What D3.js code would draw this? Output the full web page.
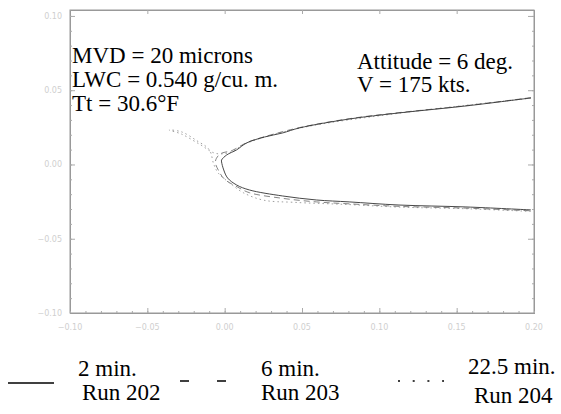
<!DOCTYPE html>
<html>
<head>
<meta charset="utf-8">
<script src="https://cdn.jsdelivr.net/npm/d3@7"></script>
<style>
  body { margin: 0; background: #fff; }
</style>
</head>
<body>
<svg id="chart"></svg>
<script>
// ice shape contours, [x, y] in chord units
const run202 = [
  [0.198, 0.0448], [0.156, 0.0394], [0.1127, 0.0347], [0.0805, 0.0306], [0.0483, 0.0246],
  [0.0374, 0.0212], [0.0258, 0.0185], [0.0142, 0.0145], [0.0077, 0.0098], [0.0013, 0.0064],
  [-0.002, 0.003], [-0.002, 0.0017], [-0.0006, -0.0037], [0.0019, -0.0091], [0.0077, -0.0138],
  [0.0161, -0.0172], [0.0374, -0.0212], [0.0593, -0.0239], [0.0805, -0.0252], [0.1127, -0.0273],
  [0.156, -0.0286], [0.198, -0.0306]
];
const run203 = [
  [0.198, 0.0450], [0.156, 0.0396], [0.1127, 0.0349], [0.0805, 0.0308], [0.0483, 0.0248],
  [0.0258, 0.0187], [0.0142, 0.0147], [0.005, 0.0095], [-0.003, 0.0070], [-0.006, 0.0020],
  [-0.004, -0.004], [0.0, -0.010], [0.008, -0.015], [0.016, -0.019], [0.0374, -0.0228],
  [0.0593, -0.0252], [0.0805, -0.0265], [0.1127, -0.0282], [0.156, -0.0294], [0.198, -0.0312]
];
const run204 = [
  [0.198, 0.0446], [0.1127, 0.0345], [0.0483, 0.0244], [0.0142, 0.0143], [0.003, 0.0080],
  [-0.006, 0.0075], [-0.016, 0.0135], [-0.028, 0.0205], [-0.036, 0.0232], [-0.028, 0.022],
  [-0.018, 0.016], [-0.010, 0.010], [-0.007, 0.000], [-0.004, -0.006], [0.004, -0.013],
  [0.012, -0.019], [0.025, -0.024], [0.045, -0.0255], [0.0805, -0.0270], [0.1127, -0.0287],
  [0.156, -0.0298], [0.198, -0.0316]
];
const xTicks = [-0.10, -0.05, 0.00, 0.05, 0.10, 0.15, 0.20];
const yTicks = [-0.10, -0.05, 0.00, 0.05, 0.10];
const notesLeft = ["MVD = 20 microns", "LWC = 0.540 g/cu. m.", "Tt = 30.6\u00B0F"];
const notesRight = ["Attitude = 6 deg.", "V = 175 kts."];
const legendItems = [
  { time: "2 min.", run: "Run 202", dash: null },
  { time: "6 min.", run: "Run 203", dash: "9,28" },
  { time: "22.5 min.", run: "Run 204", dash: "2,12.7" }
];

const W = 561, H = 414;
const serif = "Liberation Serif";
const svg = d3.select("#chart").attr("width", W).attr("height", H);

const x = d3.scaleLinear().domain([-0.10, 0.20]).range([70, 534]);
const y = d3.scaleLinear().domain([-0.10, 0.104]).range([313, 10]);

const fmt = d3.format(".2f");
const tickCol = "#cfcfcf";

// frame
svg.append("rect")
  .attr("x", x(-0.10)).attr("y", y(0.104))
  .attr("width", x(0.20) - x(-0.10)).attr("height", y(-0.10) - y(0.104))
  .attr("fill", "none").attr("stroke", "#999").attr("stroke-width", 1);

// axes, ticks pointing inward
const minorY = d3.range(-0.10, 0.1041, 0.01);
const minorX = d3.range(-0.10, 0.2001, 0.01);

svg.append("g").attr("transform", `translate(${x(-0.10)},0)`)
  .call(d3.axisRight(y).tickValues(yTicks).tickSize(5).tickFormat(""));
svg.append("g").attr("transform", `translate(${x(0.20)},0)`)
  .call(d3.axisLeft(y).tickValues(yTicks).tickSize(6).tickFormat(""));
svg.append("g").attr("transform", `translate(0,${y(-0.10)})`)
  .call(d3.axisTop(x).tickValues(xTicks).tickSize(5).tickFormat(""));
svg.append("g").attr("transform", `translate(0,${y(0.104)})`)
  .call(d3.axisBottom(x).tickValues(xTicks).tickSize(4).tickFormat(""));
svg.append("g").attr("transform", `translate(${x(-0.10)},0)`)
  .call(d3.axisRight(y).tickValues(minorY).tickSize(2).tickFormat(""));
svg.append("g").attr("transform", `translate(${x(0.20)},0)`)
  .call(d3.axisLeft(y).tickValues(minorY).tickSize(2).tickFormat(""));
svg.append("g").attr("transform", `translate(0,${y(-0.10)})`)
  .call(d3.axisTop(x).tickValues(minorX).tickSize(2).tickFormat(""));
svg.selectAll(".domain").attr("stroke", "#999");
svg.selectAll(".tick line").attr("stroke", "#aaa");

// tick labels
svg.append("g").selectAll("text").data(yTicks).join("text")
  .attr("x", x(-0.10) - 8).attr("y", d => y(d) + 3)
  .attr("text-anchor", "end")
  .attr("font-family", "DejaVu Sans").attr("font-size", 8)
  .attr("fill", tickCol)
  .text(d => fmt(d).replace("-", "\u2212"));
svg.append("g").selectAll("text").data(xTicks).join("text")
  .attr("x", d => x(d)).attr("y", y(-0.10) + 17)
  .attr("text-anchor", "middle")
  .attr("font-family", "DejaVu Sans").attr("font-size", 8)
  .attr("fill", tickCol)
  .text(d => fmt(d).replace("-", "\u2212"));

// contours
const line = d3.line().x(d => x(d[0])).y(d => y(d[1])).curve(d3.curveCatmullRom);
svg.append("path").datum(run204).attr("d", line)
  .attr("fill", "none").attr("stroke", "#888").attr("stroke-width", 0.8)
  .attr("stroke-dasharray", "1.5,3");
svg.append("path").datum(run203).attr("d", line)
  .attr("fill", "none").attr("stroke", "#666").attr("stroke-width", 0.8)
  .attr("stroke-dasharray", "6,4");
svg.append("path").datum(run202).attr("d", line)
  .attr("fill", "none").attr("stroke", "#333").attr("stroke-width", 0.9);

// annotations
svg.append("g").selectAll("text").data(notesLeft).join("text")
  .attr("x", 72).attr("y", (d, i) => 63 + i * 24)
  .attr("font-family", serif).attr("font-size", 23).attr("fill", "#000")
  .text(d => d);
svg.append("g").selectAll("text").data(notesRight).join("text")
  .attr("x", 357).attr("y", (d, i) => 69 + i * 23)
  .attr("font-family", serif).attr("font-size", 23).attr("fill", "#000")
  .text(d => d);

// legend
const lx = [8, 180, 398];
const lw = [46, 46, 46];
const tx = [78, 261, 468];
const leg = svg.append("g");
legendItems.forEach((d, i) => {
  leg.append("line")
    .attr("x1", lx[i]).attr("x2", lx[i] + lw[i])
    .attr("y1", i === 0 ? 383 : 381).attr("y2", i === 0 ? 383 : 381)
    .attr("stroke", "#000").attr("stroke-width", i === 2 ? 1.5 : 1.3)
    .attr("stroke-dasharray", d.dash);
  leg.append("text").attr("x", tx[i]).attr("y", i === 2 ? 374 : 376)
    .attr("font-family", serif).attr("font-size", 23).text(d.time);
  leg.append("text").attr("x", tx[i] + (i === 0 ? 4 : i === 2 ? 6 : 0)).attr("y", i === 2 ? 403 : 400)
    .attr("font-family", serif).attr("font-size", 23).text(d.run);
});
</script>
</body>
</html>
